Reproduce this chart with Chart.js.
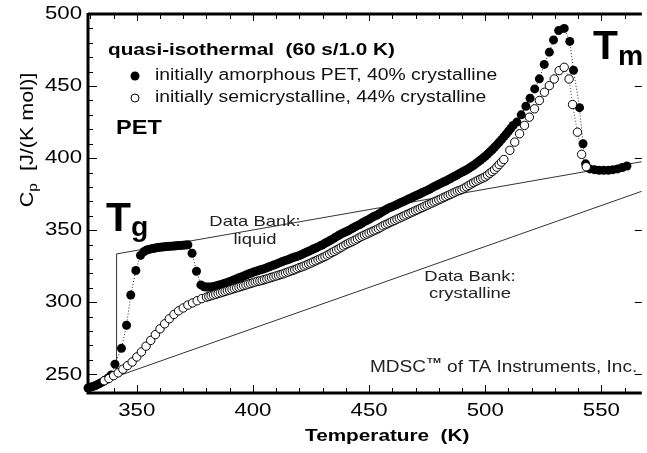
<!DOCTYPE html>
<html>
<head>
<meta charset="utf-8">
<script src="https://cdn.jsdelivr.net/npm/chart.js@4/dist/chart.umd.min.js"></script>
<style>
  html, body { margin: 0; padding: 0; background: #fff; }
  #wrap { width: 647px; height: 453px; }
</style>
</head>
<body>
<div id="wrap"><canvas id="cp" width="647" height="453"></canvas></div>
<script>
// axis ticks
const xTicks = [350, 400, 450, 500, 550];
const yTicks = [250, 300, 350, 400, 450, 500];

// initially amorphous PET (filled circles): temperature (K) / Cp (J/(K mol))
const amorphT = [
  329, 330, 331, 332, 333, 334, 335, 336, 337, 338, 339,
  340.6, 343.4, 345.6, 347.4, 349.6, 351.6,
  353, 354, 355, 356, 357, 358, 359, 360, 361, 362, 363, 364, 365, 366, 367, 368, 369, 370, 371, 372,
  373.8, 375.7, 377.6,
  379, 380, 381, 382, 383, 384, 385, 386, 387, 388,
  389, 390, 391, 392, 393, 394, 395, 396, 397, 398,
  399, 400, 401, 402, 403, 404, 405, 406, 407, 408,
  409, 410, 411, 412, 413, 414, 415, 416, 417, 418,
  419, 420, 421, 422, 423, 424, 425, 426, 427, 428,
  429, 430, 431, 432, 433, 434, 435, 436, 437, 438,
  439, 440, 441, 442, 443, 444, 445, 446, 447, 448,
  449, 450, 451, 452, 453, 454, 455, 456, 457, 458,
  459, 460, 461, 462, 463, 464, 465, 466, 467, 468,
  469, 470, 471, 472, 473, 474, 475, 476, 477, 478,
  479, 480, 481, 482, 483, 484, 485, 486, 487, 488,
  489, 490, 491, 492, 493, 494, 495, 496, 497, 498,
  499, 500, 501, 502, 503, 504, 505, 506, 507, 508,
  509, 510, 511, 512,
  513.6, 515.5, 517.5, 519.3, 521.3, 523.3, 525.4, 527.6, 529.4, 531.6, 534, 536.4, 538,
  540.6, 542.1, 543.2, 545, 547, 549, 551, 553, 555, 557, 559, 561
];
const amorphCp = [
  240.5, 241, 241.5, 242, 242.8, 243.6, 244.5, 245.5, 246.5, 247.8, 249.5,
  257, 268, 284, 305, 322, 332.5,
  335, 336, 336.6, 337, 337.3, 337.6, 337.9, 338.1, 338.3, 338.5, 338.6, 338.8, 338.9, 339, 339.2, 339.3, 339.4, 339.6, 339.7, 339.8,
  334, 321.5, 312,
  310.7, 310.5, 310.5, 310.6, 310.9, 311.3, 311.7, 312.2, 312.7, 313.2,
  313.7, 314.3, 314.9, 315.6, 316.2, 316.9, 317.5, 318.2, 318.8, 319.5,
  320.1, 320.8, 321.3, 321.8, 322.3, 322.8, 323.3, 323.9, 324.6, 325.2,
  325.8, 326.4, 327.1, 327.8, 328.4, 329, 329.5, 330.1, 330.8, 331.3,
  331.8, 332.4, 333.1, 333.9, 334.6, 335.4, 336.1, 336.9, 337.6, 338.4,
  339.1, 339.9, 340.9, 341.8, 342.6, 343.5, 344.5, 345.5, 346.5, 347.4,
  348.1, 348.9, 349.6, 350.5, 351.5, 352.3, 353.1, 353.9, 355, 355.9,
  356.7, 357.5, 358.5, 359.5, 360.2, 361, 362, 363, 364, 364.9,
  365.7, 366.3, 367, 367.8, 368.6, 369.3, 370, 370.8, 371.6, 372.3,
  373.1, 373.8, 374.6, 375.3, 376.1, 376.9, 377.6, 378.4, 379.3, 380.2,
  381, 381.8, 382.6, 383.4, 384.1, 384.9, 385.8, 386.8, 387.6, 388.4,
  389.4, 390.3, 391, 391.9, 392.9, 394, 395, 396.2, 397.5, 398.7,
  400, 401.3, 402.8, 404.3, 405.8, 407.5, 409.2, 411, 412.8, 414.7,
  416.6, 418.6, 420.6, 422.6,
  425, 430, 436, 441.5, 448, 455, 465, 473.5, 482, 488.5, 490, 481, 461,
  435, 410, 396, 392.5, 392, 391.5, 391.5, 391.5, 392, 392.5, 393.5, 394.5
];

// initially semicrystalline PET (open circles)
const semiT = [
  336, 338, 340, 342, 344, 346, 348, 350, 352, 354, 356, 358, 360, 362, 364, 366, 368, 370,
  372, 374, 376, 378, 380,
  381, 382, 383, 384, 385, 386, 387, 388, 389, 390,
  391, 392, 393, 394, 395, 396, 397, 398, 399, 400,
  401, 402, 403, 404, 405, 406, 407, 408, 409, 410,
  411, 412, 413, 414, 415, 416, 417, 418, 419, 420,
  421, 422, 423, 424, 425, 426, 427, 428, 429, 430,
  431, 432, 433, 434, 435, 436, 437, 438, 439, 440,
  441, 442, 443, 444, 445, 446, 447, 448, 449, 450,
  451, 452, 453, 454, 455, 456, 457, 458, 459, 460,
  461, 462, 463, 464, 465, 466, 467, 468, 469, 470,
  471, 472, 473, 474, 475, 476, 477, 478, 479, 480,
  481, 482, 483, 484, 485, 486, 487, 488, 489, 490,
  491, 492, 493, 494, 495, 496, 497, 498, 499, 500,
  501, 502, 503, 504, 505, 506, 507, 508,
  510.6, 512.7, 514.8, 516.9, 519, 521.2, 523.3, 525.5, 527.6, 529.7, 531.8, 534, 536.1,
  537.6, 539.7, 541.5, 543.5
];
const semiCp = [
  245.5, 247, 249, 251, 253.5, 256, 258.5, 262, 265.5, 269.5, 273.5, 277.5, 281.5, 285, 288.5, 291.5, 294, 296,
  298, 299.5, 301, 302.5, 303.5,
  304, 304.5, 305, 305.5, 306, 306.5, 307, 307.5, 308, 308.5,
  309, 309.5, 310, 310.5, 311, 311.5, 312, 312.5, 313, 313.5,
  314, 314.5, 314.8, 315.2, 315.7, 316.2, 316.7, 317.2, 317.7, 318.2,
  318.7, 319.2, 319.7, 320.3, 320.9, 321.5, 322, 322.6, 323.3, 324,
  324.5, 325.1, 325.8, 326.5, 327.2, 328, 328.7, 329.5, 330.2, 331,
  331.7, 332.6, 333.5, 334.5, 335.3, 336.2, 337.1, 338.1, 339, 340,
  340.8, 341.6, 342.3, 343.1, 344, 345, 345.8, 346.6, 347.3, 348.1,
  348.8, 349.6, 350.3, 351.1, 352, 353, 353.8, 354.5, 355.3, 356.1,
  356.8, 357.6, 358.3, 359.1, 359.8, 360.6, 361.3, 362.1, 362.8, 363.6,
  364.3, 365.1, 365.8, 366.6, 367.3, 368.1, 368.8, 369.6, 370.3, 371.1,
  371.8, 372.6, 373.3, 374.1, 374.8, 375.6, 376.3, 377.1, 377.6, 378.3,
  379.2, 380.1, 381.1, 382.1, 383, 383.9, 384.7, 385.5, 386.2, 387,
  388.2, 389.5, 390.7, 392, 393.7, 395.5, 397.2, 399,
  405.4, 411.1, 416.9, 422.7, 428.4, 434.2, 440, 445.7, 450.3, 454.9, 460.7, 463, 454.9,
  437.2, 418, 402.6, 394
];

// ATHAS Data Bank reference lines
const liquidT = [341.3, 341.3, 567.4];
const liquidCp = [248.5, 333.5, 397.5];
const crystT = [330, 567.4];
const crystCp = [242, 377];

const pts = (xs, ys) => xs.map((v, i) => ({ x: v, y: ys[i] }));
const FONT = '"Liberation Sans", Arial, Helvetica, sans-serif';

// the original artwork is stretched sideways, so text gets a horizontal scale
function wideText(ctx, s, x, y, sx, align) {
  ctx.save();
  ctx.translate(x, y);
  ctx.scale(sx, 1);
  ctx.textAlign = align || 'left';
  ctx.fillText(s, 0, 0);
  ctx.restore();
}

const frame = {
  id: 'frame',
  afterDatasetsDraw(chart) {
    const ctx = chart.ctx;
    const { left, right, top, bottom } = chart.chartArea;
    const x = chart.scales.x, y = chart.scales.y;
    ctx.save();
    ctx.strokeStyle = '#000';
    ctx.lineWidth = 1;
    ctx.beginPath();
    for (let t = 330; t <= 567; t += 10) {
      const px = Math.round(x.getPixelForValue(t)) + 0.5;
      const major = t % 50 === 0;
      ctx.moveTo(px, bottom); ctx.lineTo(px, bottom - (major ? 8 : 5));
      ctx.moveTo(px, top); ctx.lineTo(px, top + (major ? 7 : 5));
    }
    for (let v = 240; v <= 500; v += 10) {
      const py = Math.round(y.getPixelForValue(v)) + 0.5;
      const major = v % 50 === 0;
      ctx.moveTo(left, py); ctx.lineTo(left + (major ? 9 : 5), py);
      if (major) { ctx.moveTo(right, py); ctx.lineTo(right - 7, py); }
    }
    ctx.stroke();
    ctx.lineWidth = 3;
    ctx.beginPath();
    ctx.moveTo(left, top - 1); ctx.lineTo(left, bottom);
    ctx.lineTo(right, bottom);
    ctx.moveTo(left, top); ctx.lineTo(right, top);
    ctx.stroke();

    // tick labels
    ctx.fillStyle = '#000';
    ctx.font = '19px ' + FONT;
    ctx.textBaseline = 'middle';
    xTicks.forEach(t => wideText(ctx, String(t), x.getPixelForValue(t), 411, 1.17, 'center'));
    yTicks.forEach(v => wideText(ctx, String(v), left - 6, y.getPixelForValue(v), 1.17, 'right'));
    ctx.restore();
  },
  afterDraw(chart) {
    const ctx = chart.ctx;
    ctx.save();
    ctx.fillStyle = '#000';
    ctx.textBaseline = 'middle';

    // header + legend
    ctx.font = 'bold 17px ' + FONT;
    wideText(ctx, 'quasi-isothermal  (60 s/1.0 K)', 108, 50, 1.22);
    ctx.font = '16px ' + FONT;
    ctx.fillStyle = '#111';
    wideText(ctx, 'initially amorphous PET, 40% crystalline', 155, 76, 1.21);
    wideText(ctx, 'initially semicrystalline, 44% crystalline', 155, 98, 1.21);
    ctx.beginPath(); ctx.arc(135, 76, 4.5, 0, Math.PI * 2); ctx.fillStyle = '#000'; ctx.fill();
    ctx.beginPath(); ctx.arc(135, 98, 4, 0, Math.PI * 2); ctx.fillStyle = '#fff'; ctx.fill();
    ctx.lineWidth = 1; ctx.strokeStyle = '#000'; ctx.stroke();

    ctx.fillStyle = '#000';
    ctx.font = 'bold 21px ' + FONT;
    wideText(ctx, 'PET', 116, 128, 1.12);

    // Tg and Tm
    ctx.textBaseline = 'alphabetic';
    ctx.font = 'bold 40px ' + FONT;
    wideText(ctx, 'T', 106, 231, 1.02);
    wideText(ctx, 'T', 593, 59, 1.02);
    ctx.font = 'bold 27px ' + FONT;
    wideText(ctx, 'g', 131, 236, 1.05);
    wideText(ctx, 'm', 618, 65, 1.05);

    // data bank labels
    ctx.textBaseline = 'middle';
    ctx.font = '15px ' + FONT;
    ctx.fillStyle = '#222';
    wideText(ctx, 'Data Bank:', 255, 222, 1.23, 'center');
    wideText(ctx, 'liquid', 255, 240, 1.23, 'center');
    wideText(ctx, 'Data Bank:', 470, 277, 1.23, 'center');
    wideText(ctx, 'crystalline', 470, 294, 1.23, 'center');

    // credit
    const sx = 1.19;
    ctx.font = '16px ' + FONT;
    wideText(ctx, 'MDSC', 370, 368, sx);
    const w = ctx.measureText('MDSC').width * sx;
    ctx.font = 'bold 8px ' + FONT;
    wideText(ctx, 'TM', 370 + w + 1, 361, sx);
    const w2 = ctx.measureText('TM').width * sx;
    ctx.font = '16px ' + FONT;
    wideText(ctx, ' of TA Instruments, Inc.', 370 + w + w2 + 2, 368, sx);

    // axis titles
    ctx.fillStyle = '#000';
    ctx.font = 'bold 17px ' + FONT;
    wideText(ctx, 'Temperature  (K)', 305, 436, 1.22);

    ctx.translate(28, 140);
    ctx.rotate(-Math.PI / 2);
    ctx.scale(1.2, 1);
    ctx.font = '18px ' + FONT;
    const a = 'C', b = 'p', c = '  [J/(K mol)]';
    const wa = ctx.measureText(a).width;
    const wc = ctx.measureText(c).width;
    ctx.font = '13px ' + FONT;
    const wb = ctx.measureText(b).width;
    const x0 = -(wa + wb + wc) / 2;
    ctx.font = '18px ' + FONT;
    ctx.fillText(a, x0, 0);
    ctx.font = '13px ' + FONT;
    ctx.fillText(b, x0 + wa, 5);
    ctx.font = '18px ' + FONT;
    ctx.fillText(c, x0 + wa + wb, 0);
    ctx.restore();
  }
};

new Chart(document.getElementById('cp'), {
  type: 'scatter',
  data: {
    datasets: [
      {
        label: 'initially semicrystalline, 44% crystalline',
        data: pts(semiT, semiCp),
        showLine: true,
        borderColor: '#444',
        borderWidth: 1,
        borderDash: [1, 2],
        pointRadius: 4.2,
        pointBackgroundColor: '#fff',
        pointBorderColor: '#000',
        pointBorderWidth: 1,
        clip: false
      },
      {
        label: 'initially amorphous PET, 40% crystalline',
        data: pts(amorphT, amorphCp),
        showLine: true,
        borderColor: '#222',
        borderWidth: 1,
        borderDash: [1, 2],
        pointRadius: 4.5,
        pointBackgroundColor: '#000',
        pointBorderColor: '#000',
        pointBorderWidth: 0,
        clip: false
      },
      {
        label: 'Data Bank: liquid',
        data: pts(liquidT, liquidCp),
        showLine: true,
        borderColor: '#333',
        borderWidth: 1,
        pointRadius: 0
      },
      {
        label: 'Data Bank: crystalline',
        data: pts(crystT, crystCp),
        showLine: true,
        borderColor: '#333',
        borderWidth: 1,
        pointRadius: 0
      }
    ]
  },
  options: {
    responsive: false,
    animation: false,
    devicePixelRatio: 1,
    layout: { padding: { top: 14, right: 0, left: 0, bottom: 0 } },
    plugins: { legend: { display: false }, tooltip: { enabled: false } },
    scales: {
      x: {
        type: 'linear',
        min: 329,
        max: 567.4,
        afterBuildTicks: s => { s.ticks = xTicks.map(v => ({ value: v })); },
        afterFit: s => { s.height = 60; },
        grid: { display: false, drawTicks: false },
        border: { display: false },
        ticks: { display: false }
      },
      y: {
        type: 'linear',
        min: 237,
        max: 500,
        afterBuildTicks: s => { s.ticks = yTicks.map(v => ({ value: v })); },
        afterFit: s => { s.width = 88; },
        grid: { display: false, drawTicks: false },
        border: { display: false },
        ticks: { display: false }
      }
    }
  },
  plugins: [frame]
});
</script>
</body>
</html>
